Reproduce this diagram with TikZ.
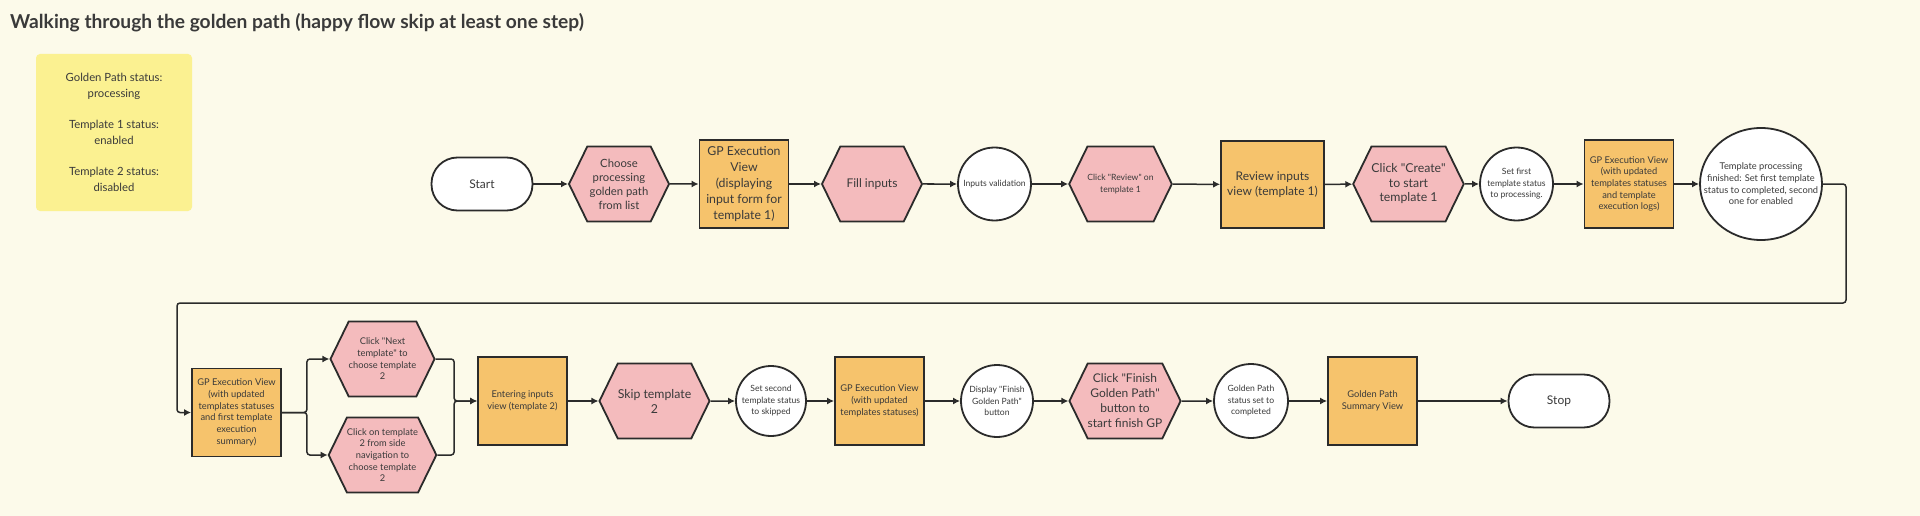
\documentclass[tikz,border=0pt]{standalone}
\usepackage{fontspec}
\setmainfont{Lato}[Ligatures=TeXOff]
\usepackage{tikz}
\usetikzlibrary{arrows.meta,shapes.symbols,shapes.geometric}
\definecolor{bgcol}{HTML}{FCFAEA}
\definecolor{notecol}{HTML}{FBF191}
\definecolor{hexcol}{HTML}{F4BBBD}
\definecolor{boxcol}{HTML}{F6C36C}
\definecolor{linecol}{HTML}{2B2B2B}
\definecolor{txtcol}{HTML}{3A3A3A}

\begin{document}
\begin{tikzpicture}[x=1pt, y=-1pt,
		every node/.style={inner sep=0pt, align=center, text=txtcol},
		bigtxt/.style={font=\fontsize{12}{15}\selectfont},
		smalltxt/.style={font=\fontsize{9.3}{11.7}\selectfont},
		tinytxt/.style={font=\fontsize{8.6}{11.5}\selectfont},
		terminal/.style={draw=linecol, line width=1.8pt, fill=white, rounded corners=26pt, minimum width=101pt, minimum height=53pt, bigtxt},
		action/.style={signal, signal to=east and west, signal pointer angle=128, draw=linecol, line width=1.8pt, fill=hexcol, minimum width=100pt, minimum height=75pt},
		viewbox/.style={draw=linecol, line width=1.8pt, fill=boxcol, minimum width=89pt, minimum height=88pt},
		state/.style={circle, draw=linecol, line width=1.8pt, fill=white, minimum size=73pt, tinytxt},
		flow/.style={draw=linecol, line width=1.5pt, -{Latex[length=7pt,width=7pt]}},
		elbow/.style={flow, rounded corners=3pt}]
	\fill[bgcol] (0,0) rectangle (1920,516);
	\useasboundingbox (0,0) rectangle (1920,516);
	\node[anchor=west, font=\fontsize{19.2}{22}\selectfont\bfseries, text=txtcol] (title) at (10,23) {Walking through the golden path (happy flow skip at least one step)};
	\node[fill=notecol, rounded corners=4pt, minimum width=156pt, minimum height=157pt, font=\fontsize{11.3}{16}\selectfont] (note) at (114,132.5)
		{Golden Path status:\\processing\\[15pt]Template 1 status:\\enabled\\[15pt]Template 2 status:\\disabled};
	% first row
	\node[terminal] (start) at (482,184) {Start};
	\node[action, font=\fontsize{11.3}{14}\selectfont] (choose) at (619,184) {Choose\\processing\\golden path\\from list};
	\node[viewbox, font=\fontsize{12.3}{16}\selectfont] (gp1) at (744,184) {GP Execution\\View\\(displaying\\input form for\\template 1)};
	\node[action, bigtxt] (fill) at (872,184) {Fill inputs};
	\node[state] (valid) at (994.5,184) {Inputs validation};
	\node[action, tinytxt] (review) at (1120.5,184) {Click "Review" on\\template 1};
	\node[viewbox, minimum width=103pt, minimum height=87pt, bigtxt] (revview) at (1272.5,184.5) {Review inputs\\view (template 1)};
	\node[action, font=\fontsize{12.3}{14.5}\selectfont] (create) at (1408.5,184) {Click "Create"\\to start\\template 1};
	\node[state] (setfirst) at (1516.5,184) {Set first\\template status\\to processing.};
	\node[viewbox, smalltxt] (gp2) at (1629,184) {GP Execution View\\(with updated\\templates statuses\\and template\\execution logs)};
	\node[ellipse, draw=linecol, line width=1.8pt, fill=white, inner xsep=-16pt, minimum width=122pt, minimum height=112pt, smalltxt] (tproc) at (1761,184)
		{Template processing\\finished: Set first template\\status to completed, second\\one for enabled};
	% second row
	\node[viewbox, smalltxt] (gp3) at (236.5,412.5) {GP Execution View\\(with updated\\templates statuses\\and first template\\execution\\summary)};
	\node[action, smalltxt] (next) at (382.5,359) {Click "Next\\template" to\\choose template\\2};
	\node[action, smalltxt] (side) at (382.5,455) {Click on template\\2 from side\\navigation to\\choose template\\2};
	\node[viewbox, smalltxt] (entering) at (522.5,401) {Entering inputs\\view (template 2)};
	\node[action, font=\fontsize{12.3}{15}\selectfont] (skip) at (654.5,401) {Skip template\\2};
	\node[state, minimum size=70pt] (setsecond) at (771,401) {Set second\\template status\\to skipped};
	\node[viewbox, smalltxt] (gp4) at (879.5,401) {GP Execution View\\(with updated\\templates statuses)};
	\node[state, minimum size=72pt] (display) at (997,401) {Display "Finish\\Golden Path"\\button};
	\node[action, font=\fontsize{12}{15}\selectfont] (finish) at (1125,401) {Click "Finish\\Golden Path"\\button to\\start finish GP};
	\node[state, minimum size=74pt] (gpset) at (1251,401) {Golden Path\\status set to\\completed};
	\node[viewbox, smalltxt] (summary) at (1372.5,401) {Golden Path\\Summary View};
	\node[terminal] (stop) at (1559,401) {Stop};
	% connectors
	\foreach \a/\b in {start/choose, choose/gp1, gp1/fill, fill/valid, valid/review, review/revview, revview/create, create/setfirst, setfirst/gp2, gp2/tproc,
			entering/skip, skip/setsecond, setsecond/gp4, gp4/display, display/finish, finish/gpset, gpset/summary, summary/stop}
		\draw[flow] (\a) -- (\b);
	\coordinate (turnR) at (1846,303);
	\coordinate (turnL) at (177,303);
	\draw[elbow] (tproc.east) -| (turnR) -- (turnL) |- (gp3.west);
	\draw[elbow] (gp3.east) -- ++(25,0) |- (next.west);
	\draw[elbow] (gp3.east) -- ++(25,0) |- (side.west);
	\draw[elbow] (next.east) -| ([xshift=-23pt]entering.west) -- (entering.west);
	\draw[elbow] (side.east) -| ([xshift=-23pt]entering.west) -- (entering.west);
\end{tikzpicture}
\end{document}
